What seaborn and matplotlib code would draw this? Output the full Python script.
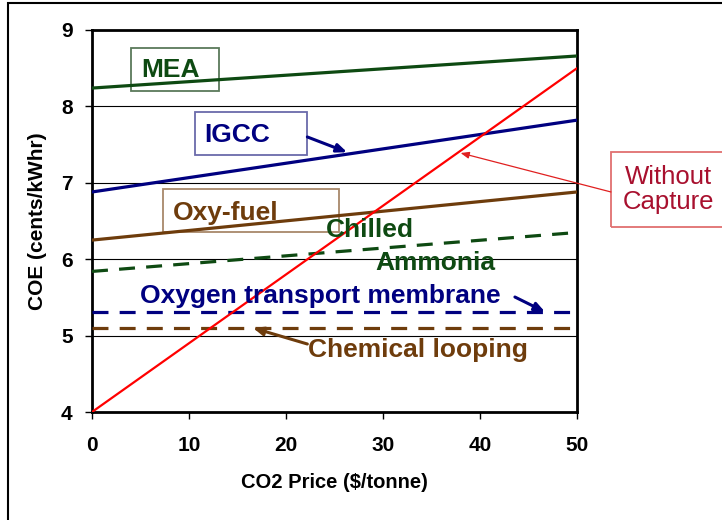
import numpy as np
import pandas as pd
import matplotlib
matplotlib.use("Agg")
import matplotlib.pyplot as plt
import seaborn as sns
from matplotlib.patches import Rectangle

# CO2 price ($/tonne) and cost of electricity (cents/kWhr) at the two ends
co2_price = [0, 50]
mea = [8.24, 8.66]
igcc = [6.88, 7.82]
without_capture = [4.0, 8.5]
oxy_fuel = [6.25, 6.88]
chilled_ammonia = [5.84, 6.35]
otm = [5.31, 5.31]
chem_looping = [5.10, 5.10]

x_ticks = [0, 10, 20, 30, 40, 50]
y_ticks = [4, 5, 6, 7, 8, 9]

GREEN = "#0e4a12"
NAVY = "#000080"
BROWN = "#6e3c0c"
RED = "#ff0000"
WC_TEXT = "#a8102e"

sns.set_style("white")
plt.rcParams["font.family"] = ["Liberation Sans", "DejaVu Sans"]
plt.rcParams.update({"text.color": "black", "axes.labelcolor": "black",
                     "xtick.color": "black", "ytick.color": "black"})

fig = plt.figure(figsize=(7.22, 5.20), dpi=100)
ax = fig.add_axes([92 / 722, 1 - 412 / 520, 485 / 722, 382 / 520])

dash = (0, (5, 3.5))
series = [
    (mea, GREEN, "-", 2.3),
    (igcc, NAVY, "-", 2.3),
    (oxy_fuel, BROWN, "-", 2.3),
    (chilled_ammonia, GREEN, dash, 2.3),
    (otm, NAVY, dash, 2.3),
    (chem_looping, BROWN, dash, 2.3),
    (without_capture, RED, "-", 1.6),
]
for vals, col, ls, lw in series:
    sns.lineplot(x=co2_price, y=vals, ax=ax, color=col, linestyle=ls, linewidth=lw, zorder=3)

ax.set_xlim(0, 50)
ax.set_ylim(4, 9)
ax.set_xticks(x_ticks)
ax.set_yticks(y_ticks)
for yv in y_ticks[1:-1]:
    ax.axhline(yv, color="black", lw=0.8, zorder=1)

ax.set_xticklabels([str(v) for v in x_ticks], fontweight="bold", fontsize=15)
ax.set_yticklabels([str(v) for v in y_ticks], fontweight="bold", fontsize=15)
ax.tick_params(axis="x", direction="out", length=5, width=1, pad=12, bottom=True)
ax.tick_params(axis="y", direction="out", length=5, width=1, pad=9, left=True)
for sp in ax.spines.values():
    sp.set_linewidth(2)
    sp.set_color("black")
ax.set_xlabel("CO2 Price ($/tonne)", fontweight="bold", fontsize=14.5, labelpad=13)
ax.set_ylabel("COE (cents/kWhr)", fontweight="bold", fontsize=15, labelpad=10)

# outer frame of the slide
fig.patches.append(Rectangle((8 / 722, -0.2), 1.2, 1.2 - 3 / 520,
                             transform=fig.transFigure, fill=False, lw=1.5, ec="black"))

# outlined label boxes (x0, x1, y0, y1 in data units)
def frame(x0, x1, y0, y1, ec):
    ax.add_patch(Rectangle((x0, y0), x1 - x0, y1 - y0, fill=False, ec=ec, lw=1.3,
                           clip_on=False, zorder=2))

frame(4.02, 13.09, 8.20, 8.76, "#5a7a5a")
frame(10.62, 22.16, 7.36, 7.93, "#6a6aaa")
frame(7.32, 25.46, 6.36, 6.92, "#a8886a")
frame(53.5, 66.0, 6.42, 7.40, "#e07070")

lab = dict(fontsize=19, fontweight="bold", ha="center", va="center", zorder=5)
ax.text(8.14, 8.47, "MEA", color=GREEN, **lab)
ax.text(15.0, 7.63, "IGCC", color=NAVY, **lab)
ax.text(13.76, 6.61, "Oxy-fuel", color=BROWN, **lab)
ax.text(28.6, 6.38, "Chilled", color=GREEN, **lab)
ax.text(35.4, 5.95, "Ammonia", color=GREEN, **lab)
ax.text(23.5, 5.52, "Oxygen transport membrane", color=NAVY, **lab)
ax.text(33.6, 4.81, "Chemical looping", color=BROWN, **lab)
ax.text(59.4, 6.91, "Without\nCapture", color=WC_TEXT, fontsize=18.5, ha="center", va="center",
        linespacing=1.05, clip_on=False, zorder=5)

arrow = dict(arrowstyle="-|>,head_length=0.6,head_width=0.25", lw=2.2, shrinkA=0, shrinkB=0)
ax.annotate("", xy=(26.3, 7.40), xytext=(22.2, 7.60), arrowprops=dict(color=NAVY, **arrow), zorder=4)
ax.annotate("", xy=(46.7, 5.31), xytext=(43.6, 5.505), arrowprops=dict(color=NAVY, **arrow), zorder=4)
ax.annotate("", xy=(16.6, 5.10), xytext=(22.2, 4.89), arrowprops=dict(color=BROWN, **arrow), zorder=4)
ax.annotate("", xy=(38.0, 7.39), xytext=(53.5, 6.88), annotation_clip=False,
            arrowprops=dict(color="#e02020", arrowstyle="-|>,head_length=0.5,head_width=0.2",
                            lw=0.9, shrinkA=0, shrinkB=0), zorder=4)

fig.savefig("out.png", dpi=100)
